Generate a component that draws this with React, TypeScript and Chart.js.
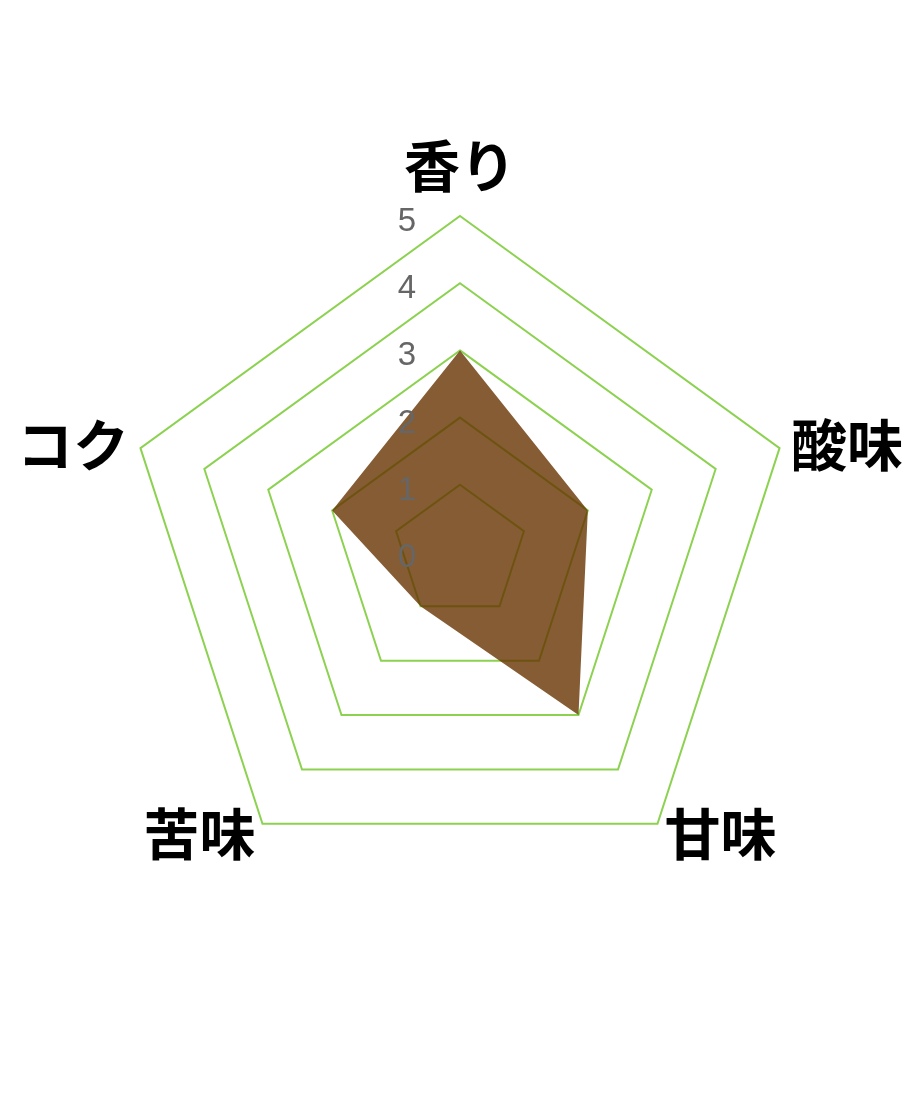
import { useEffect, useRef } from "react";
import { Chart, registerables } from "chart.js";

Chart.register(...registerables);

const labels = ["香り", "酸味", "甘味", "苦味", "コク"];
const values = [3, 2, 3, 1, 2];
const tickValues = [0, 1, 2, 3, 4, 5];

// tick labels sit left of the vertical axis, so draw them ourselves
const tickLabelPlugin = {
  id: "tickLabels",
  afterDatasetsDraw(chart: Chart) {
    const scale: any = chart.scales.r;
    const ctx = chart.ctx;
    ctx.save();
    ctx.font = "33px 'Liberation Sans', Arial, sans-serif";
    ctx.fillStyle = "#666666";
    ctx.textAlign = "center";
    ctx.textBaseline = "middle";
    tickValues.forEach((v) => {
      const d = scale.getDistanceFromCenterForValue(v);
      ctx.fillText(String(v), scale.xCenter - 53, scale.yCenter - d + 6);
    });
    ctx.restore();
  },
};

// point labels placed the old (v2) way: centred on the point, top one lifted
const pointLabelPlugin = {
  id: "pointLabelsV2",
  afterDraw(chart: Chart) {
    const scale: any = chart.scales.r;
    const ctx = chart.ctx;
    ctx.save();
    ctx.font = "bold 56px 'Noto Sans CJK JP', sans-serif";
    ctx.fillStyle = "#000000";
    ctx.textBaseline = "middle";
    labels.forEach((label, i) => {
      const pos = scale.getPointPosition(i, scale.drawingArea + 12);
      const deg = (i * 360) / labels.length;
      let y = pos.y;
      if (deg === 0) {
        ctx.textAlign = "center";
        y -= 38;
      } else if (deg < 180) {
        ctx.textAlign = "left";
      } else {
        ctx.textAlign = "right";
      }
      ctx.fillText(label, pos.x, y);
    });
    ctx.restore();
  },
};

export default function App() {
  const chartRef = useRef<HTMLCanvasElement>(null);
  const chartInstance = useRef<Chart | null>(null);

  useEffect(() => {
    if (!chartRef.current) return;
    if (chartInstance.current) {
      chartInstance.current.destroy();
    }
    const ctx = chartRef.current.getContext("2d");
    if (!ctx) return;

    chartInstance.current = new Chart(ctx, {
      type: "radar",
      data: {
        labels,
        datasets: [
          {
            data: values,
            backgroundColor: "rgba(102, 51, 0, 0.8)",
            borderWidth: 0,
            pointRadius: 0,
          },
        ],
      },
      options: {
        animation: false,
        responsive: true,
        maintainAspectRatio: false,
        layout: { padding: { left: 116, right: 116 } },
        plugins: {
          legend: { display: false },
          tooltip: { enabled: false },
        },
        scales: {
          r: {
            min: 0,
            max: 5,
            ticks: { stepSize: 1, display: false },
            angleLines: { display: false },
            grid: { color: "rgb(140, 210, 80)", lineWidth: 2 },
            pointLabels: { display: false },
          },
        },
      },
      plugins: [tickLabelPlugin, pointLabelPlugin],
    });

    return () => {
      if (chartInstance.current) {
        chartInstance.current.destroy();
        chartInstance.current = null;
      }
    };
  }, []);

  return (
    <div style={{ width: 904, height: 1088 }}>
      <canvas ref={chartRef} />
    </div>
  );
}
